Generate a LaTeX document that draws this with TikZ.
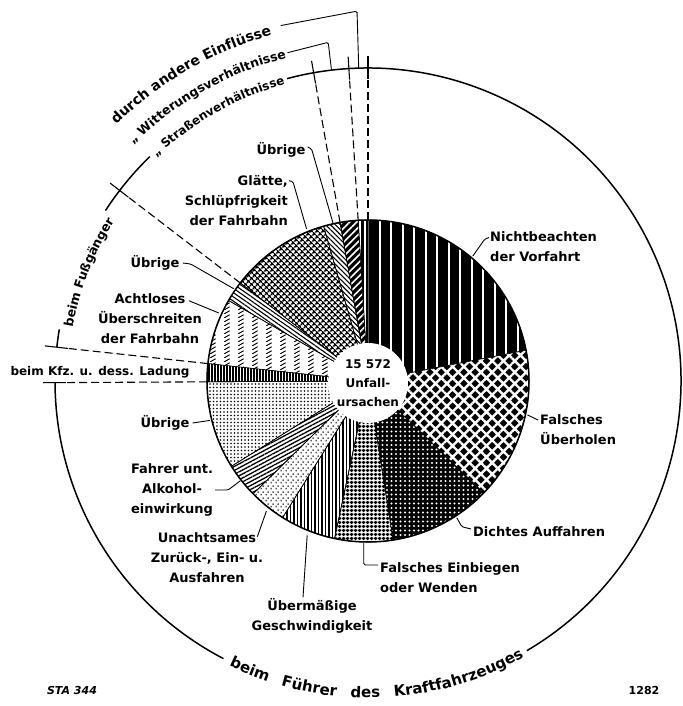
\documentclass[tikz,border=0pt]{standalone}
\usepackage{fontspec}
\setmainfont{DejaVu Sans}
\usetikzlibrary{patterns,patterns.meta,decorations.text}

\newcommand{\lblfont}{\fontsize{13}{20}\selectfont\bfseries}
\newcommand{\arcfont}{\fontsize{12.5}{15}\selectfont\bfseries}
\newcommand{\bigarcfont}{\fontsize{14}{17}\selectfont\bfseries}

% columns of short slanted strokes
\pgfdeclarepatternformonly{hatchcols}{\pgfpointorigin}{\pgfpoint{14pt}{4pt}}{\pgfpoint{14pt}{4pt}}{%
  \pgfsetlinewidth{1.1pt}%
  \pgfpathmoveto{\pgfpoint{0pt}{0pt}}%
  \pgfpathlineto{\pgfpoint{6pt}{4pt}}%
  \pgfusepath{stroke}}
% staggered short dashes
\pgfdeclarepatternformonly{dashcols}{\pgfpointorigin}{\pgfpoint{5pt}{6pt}}{\pgfpoint{5pt}{6pt}}{%
  \pgfsetlinewidth{1.1pt}%
  \pgfpathmoveto{\pgfpoint{1.25pt}{0.6pt}}\pgfpathlineto{\pgfpoint{1.25pt}{2.4pt}}%
  \pgfpathmoveto{\pgfpoint{3.75pt}{3.6pt}}\pgfpathlineto{\pgfpoint{3.75pt}{5.4pt}}%
  \pgfusepath{stroke}}

\begin{document}
\begin{tikzpicture}[x=1pt, y=1pt,
    slice/.style={draw=black, line width=0.6pt},
    dark/.style={preaction={fill=black}, pattern color=white},
    lbl/.style={font=\lblfont, inner sep=0pt, align=center},
    leader/.style={line width=0.9pt, rounded corners=1.5pt},
    rim/.style={line width=1.5pt},
    bound/.style={line width=1.1pt, dash pattern=on 8pt off 4pt},
    crossmark/.style={line width=1.1pt}]
  \useasboundingbox (-368,-325) rectangle (314,381);

  % slices, counter-clockwise from the right
  \draw[slice, dark, pattern={Lines[angle=90,distance=11.5pt,line width=2pt]}]
    (0,0) -- (11:161) arc[start angle=11, end angle=90, radius=161] -- cycle;
  \draw[slice, dark, pattern={Lines[angle=90,distance=5pt,line width=1.3pt]}]
    (0,0) -- (90:161) arc[start angle=90, end angle=93.5, radius=161] -- cycle;
  \draw[slice, dark, pattern={Lines[angle=45,distance=5pt,line width=1.6pt]}]
    (0,0) -- (93.5:161) arc[start angle=93.5, end angle=100, radius=161] -- cycle;
  \draw[slice, pattern={Lines[angle=-45,distance=3.5pt,line width=1.1pt]}]
    (0,0) -- (100:161) arc[start angle=100, end angle=106, radius=161] -- cycle;
  \draw[slice, pattern={Hatch[angle=45,distance=4pt,line width=1.5pt]}]
    (0,0) -- (106:161) arc[start angle=106, end angle=142.5, radius=161] -- cycle;
  \draw[slice, pattern={Lines[angle=-35,distance=3.5pt,line width=1.1pt]}]
    (0,0) -- (142.5:161) arc[start angle=142.5, end angle=150, radius=161] -- cycle;
  \draw[slice, pattern=hatchcols]
    (0,0) -- (150:161) arc[start angle=150, end angle=173.8, radius=161] -- cycle;
  \draw[slice, dark, pattern={Lines[angle=90,distance=3pt,line width=0.8pt]}]
    (0,0) -- (173.8:161) arc[start angle=173.8, end angle=180.3, radius=161] -- cycle;
  \draw[slice, pattern={Dots[distance=3.5pt,radius=0.8pt]}]
    (0,0) -- (180.3:161) arc[start angle=180.3, end angle=212, radius=161] -- cycle;
  \draw[slice, pattern={Lines[angle=28,distance=3.5pt,line width=1.3pt]}]
    (0,0) -- (212:161) arc[start angle=212, end angle=224.5, radius=161] -- cycle;
  \draw[slice, pattern=dashcols]
    (0,0) -- (224.5:161) arc[start angle=224.5, end angle=238, radius=161] -- cycle;
  \draw[slice, pattern={Lines[angle=90,distance=3.5pt,line width=1.6pt]}]
    (0,0) -- (238:161) arc[start angle=238, end angle=258, radius=161] -- cycle;
  \draw[slice, pattern={Hatch[angle=0,distance=4pt,line width=2pt]}]
    (0,0) -- (258:161) arc[start angle=258, end angle=279, radius=161] -- cycle;
  \draw[slice, dark, pattern={Dots[distance=4.5pt,radius=1.1pt]}]
    (0,0) -- (279:161) arc[start angle=279, end angle=316, radius=161] -- cycle;
  \draw[slice, dark, pattern={Hatch[angle=45,distance=8pt,line width=2.4pt]}]
    (0,0) -- (316:161) arc[start angle=316, end angle=371, radius=161] -- cycle;
  \draw[rim] (0,0) circle[radius=161];

  % centre
  \fill[white] (0,-2) circle[radius=40];
  \node[lbl, font=\fontsize{12}{19}\selectfont\bfseries] (total) at (0,-2) {15 572\\Unfall-\\ursachen};

  % group boundaries
  \begin{scope}[bound]
    \draw (90:161) -- (90:302);
    \draw (93.5:161) -- (93.5:302);
    \draw (100:161) -- (100:302);
    \draw (142.5:161) -- (142.5:302);
    \draw (173.8:161) -- (173.8:302);
    \draw (180.3:161) -- (180.3:302);
  \end{scope}
  \begin{scope}[crossmark]
    \draw (90:302) -- (90:325);
    \draw (93.5:302) -- (93.5:325);
    \draw (100:302) -- (100:325);
    \draw (142.5:302) -- (142.5:325);
    \draw (173.8:302) -- (173.8:325);
    \draw (180.3:302) -- (180.3:325);
  \end{scope}

  % outer ring
  \begin{scope}[rim]
    \draw (180.3:313) arc[start angle=180.3, end angle=242.5, radius=313];
    \draw (300.5:313) arc[start angle=300.5, end angle=465, radius=313];
    \draw (134.2:313) arc[start angle=134.2, end angle=147, radius=313];
    \draw (170.5:313) arc[start angle=170.5, end angle=173.8, radius=313];
  \end{scope}

  % ring texts
  \path[decorate, decoration={text along path, text align=center,
      text={|\bigarcfont|durch andere Einflüsse}}]
    (135.5:359) arc[start angle=135.5, end angle=104.5, radius=359];
  \path[decorate, decoration={text along path, text align=center,
      text={|\arcfont|„ Witterungsverhältnisse}}]
    (136:333) arc[start angle=136, end angle=103, radius=333];
  \path[decorate, decoration={text along path, text align=center,
      text={|\fontsize{12}{14}\selectfont\bfseries|„ Straßenverhältnisse}}]
    (135:308) arc[start angle=135, end angle=104, radius=308];
  \path[decorate, decoration={text along path, text align=center,
      text={|\arcfont|beim Fußgänger}}]
    (172:300) arc[start angle=172, end angle=145.5, radius=300];
  \path[decorate, decoration={text along path, text align=fit to path stretching spaces,
      text={|\fontsize{15}{18}\selectfont\bfseries|beim Führer des Kraftfahrzeuges}}]
    (244:317) arc[start angle=244, end angle=299.5, radius=317];

  \coordinate (witterungA) at (103.8:338);
  \coordinate (witterungB) at (96.7:341);
  \coordinate (witterungC) at (96.7:313);
  \coordinate (andereA) at (103.8:366);
  \coordinate (andereB) at (91.7:370);
  \coordinate (andereC) at (91.7:313);
  \draw[leader] (witterungA) -- (witterungB) -- (witterungC);
  \draw[leader] (andereA) -- (andereB) -- (andereC);

  % slice labels
  \node[lbl, anchor=west, align=left] (vorfahrtL) at (122,134) {Nichtbeachten\\der Vorfahrt};
  \node[lbl, anchor=west, align=left] (ueberholenL) at (172,-49) {Falsches\\Überholen};
  \node[lbl, anchor=west] (auffahrenL) at (105,-151) {Dichtes Auffahren};
  \node[lbl, anchor=west, align=left] (einbiegenL) at (12,-197) {Falsches Einbiegen\\oder Wenden};
  \node[lbl] (tempoL) at (-56,-235) {Übermäßige\\Geschwindigkeit};
  \node[lbl] (unachtL) at (-161,-177) {Unachtsames\\Zurück-, Ein- u.\\Ausfahren};
  \node[lbl] (alkoholL) at (-196,-109) {Fahrer unt.\\Alkohol-\\einwirkung};
  \node[lbl] (fUebrigeL) at (-203,-42) {Übrige};
  \node[lbl, font=\fontsize{12}{18}\selectfont\bfseries] (kfzL) at (-268,9) {beim Kfz. u. dess. Ladung};
  \node[lbl] (achtlosL) at (-218,62) {Achtloses\\Überschreiten\\der Fahrbahn};
  \node[lbl] (fgUebrigeL) at (-213,118) {Übrige};
  \node[lbl, anchor=east, align=right] (glaetteL) at (-80,180) {Glätte,\\Schlüpfrigkeit\\der Fahrbahn};
  \node[lbl] (strUebrigeL) at (-87,231) {Übrige};

  \coordinate (vorfahrtP) at (50:163);
  \coordinate (ueberholenP) at (-12:163);
  \coordinate (auffahrenP) at (-57:163);
  \coordinate (einbiegenP) at (268.5:162);
  \coordinate (tempoP) at (248.5:166);
  \coordinate (unachtP) at (232:165);
  \coordinate (alkoholP) at (218:162);
  \coordinate (fUebrigeP) at (194:163);
  \coordinate (achtlosP) at (155.5:164);
  \coordinate (fgUebrigeP) at (145.5:163);
  \coordinate (glaetteP) at (112:164);
  \coordinate (strUebrigeP) at (102.5:162);

  \draw[leader] (vorfahrtP) -- ++(12,17) -- ([shift={(-1,9.5)}]vorfahrtL.west);
  \draw[leader] (ueberholenP) -- ([shift={(-2,10)}]ueberholenL.west);
  \draw[leader] (auffahrenP) -- ++(5,-9) -- ([shift={(-2,3)}]auffahrenL.west);
  \draw[leader] (einbiegenP) |- ([shift={(-2,13)}]einbiegenL.west);
  \draw[leader] (tempoP) -- ([shift={(-9,1)}]tempoL.north);
  \draw[leader] (unachtP) -- ([shift={(-6,-4)}]unachtL.north east);
  \draw[leader] ([xshift=2pt]alkoholL.east) -- ++(13,0) -- (alkoholP);
  \draw[leader] ([xshift=3pt]fUebrigeL.east) -- (fUebrigeP);
  \draw[leader] ([shift={(-13,-7)}]achtlosL.north east) -- (achtlosP);
  \draw[leader] ([xshift=3pt]fgUebrigeL.east) -- ++(8,-1) -- (fgUebrigeP);
  \draw[leader] ([shift={(1,-5)}]glaetteL.north east) -- ++(4,-1) -- (glaetteP);
  \draw[leader] ([shift={(2,3)}]strUebrigeL.east) -- ++(4,-2) -- (strUebrigeP);

  % corner marks
  \node[font=\fontsize{11}{13}\selectfont\bfseries\itshape, inner sep=0pt] (staL) at (-296,-309) {STA 344};
  \node[font=\fontsize{11}{13}\selectfont\bfseries, inner sep=0pt] (numL) at (276,-309) {1282};
\end{tikzpicture}
\end{document}
